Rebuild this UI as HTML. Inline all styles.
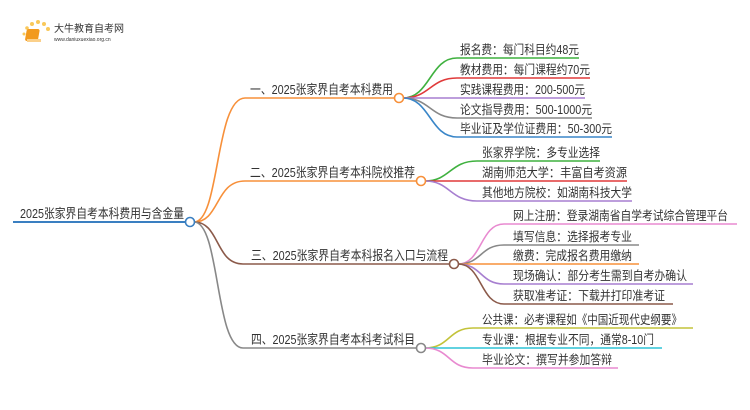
<!DOCTYPE html>
<html><head><meta charset="utf-8"><style>
html,body{margin:0;padding:0;background:#fff;}
svg{display:block;font-family:"Liberation Sans","Noto Sans CJK SC",sans-serif;}
text{fill:#333;}
</style></head><body>
<svg width="750" height="410" viewBox="0 0 750 410" xmlns="http://www.w3.org/2000/svg">
<g>
<circle cx="24" cy="34" r="1.5" fill="#f9c85a"/><circle cx="27" cy="28" r="1.8" fill="#f9c85a"/><circle cx="32" cy="24" r="2" fill="#f9c85a"/><circle cx="38" cy="22" r="2" fill="#f9c85a"/><circle cx="44" cy="24" r="2" fill="#f9c85a"/><circle cx="48" cy="29" r="2" fill="#f9c85a"/>
<rect x="32" y="29" width="13" height="12" rx="2" fill="#f29a1e" transform="skewX(-10)"/>
<rect x="27" y="39" width="14" height="3" fill="#fbd08a"/>
<text x="54" y="32" font-size="10" fill="#333">大牛教育自考网</text>
<text x="54" y="41" font-size="5" fill="#666">www.daniuxuexiao.org.cn</text>
</g>
<g fill="none" stroke-width="1.6">
<path d="M13 222 H186" stroke="#3a7fc1" stroke-width="2"/>
<path d="M194 222 C220 222 215 98 245 98 H395" stroke="#f7903a"/>
<path d="M194 222 C220 222 215 181 245 181 H417" stroke="#f7903a"/>
<path d="M194 222 C220 222 215 264 243 264 H450" stroke="#8b5a4a"/>
<path d="M194 222 C220 222 215 348 243 348 H417" stroke="#888"/>
<path d="M403 98 C430 98 430 58 457 58 H579" stroke="#3fb13f"/>
<path d="M403 98 C430 98 430 78 457 78 H590" stroke="#e03a3a"/>
<path d="M403 98 H585" stroke="#a77fd0"/>
<path d="M403 98 C430 98 430 118 457 118 H592" stroke="#888"/>
<path d="M403 98 C430 98 430 137 457 137 H612" stroke="#3a86c8"/>
<path d="M425 181 C450 181 450 161 477 161 H600" stroke="#3fb13f"/>
<path d="M425 181 H627" stroke="#e03a3a"/>
<path d="M425 181 C450 181 450 201 477 201 H632" stroke="#a77fd0"/>
<path d="M458 264 C482 264 480 224 504 224 H737" stroke="#e88ad0"/>
<path d="M458 264 C482 264 480 245 504 245 H639" stroke="#888"/>
<path d="M458 264 H639" stroke="#f7903a"/>
<path d="M458 264 C482 264 480 284 504 284 H693" stroke="#a77fd0"/>
<path d="M458 264 C482 264 480 304 504 304 H673" stroke="#8b5a4a"/>
<path d="M425 348 C450 348 448 328 473 328 H693" stroke="#c3c33a"/>
<path d="M425 348 H662" stroke="#2ec4d6"/>
<path d="M425 348 C450 348 448 368 473 368 H618" stroke="#e88ad0"/>
</g>
<g fill="#fff" stroke-width="1.6">
<circle cx="190" cy="222" r="4.5" stroke="#3a7fc1"/>
<circle cx="399" cy="98" r="4.5" stroke="#f7903a"/>
<circle cx="421" cy="181" r="4.5" stroke="#f7903a"/>
<circle cx="454" cy="264" r="4.5" stroke="#8b5a4a"/>
<circle cx="421" cy="348" r="4.5" stroke="#888"/>
</g>
<g font-size="13" lengthAdjust="spacingAndGlyphs">
<text x="20" y="218" textLength="164" lengthAdjust="spacingAndGlyphs">2025张家界自考本科费用与含金量</text>
<text x="250" y="94" textLength="143" lengthAdjust="spacingAndGlyphs">一、2025张家界自考本科费用</text>
<text x="250" y="177" textLength="165" lengthAdjust="spacingAndGlyphs">二、2025张家界自考本科院校推荐</text>
<text x="251" y="260" textLength="197" lengthAdjust="spacingAndGlyphs">三、2025张家界自考本科报名入口与流程</text>
<text x="251" y="344" textLength="164" lengthAdjust="spacingAndGlyphs">四、2025张家界自考本科考试科目</text>
</g>
<g font-size="12.5">
<text x="460" y="54" textLength="119" lengthAdjust="spacingAndGlyphs">报名费：每门科目约48元</text>
<text x="460" y="74" textLength="130" lengthAdjust="spacingAndGlyphs">教材费用：每门课程约70元</text>
<text x="460" y="94" textLength="125" lengthAdjust="spacingAndGlyphs">实践课程费用：200-500元</text>
<text x="460" y="114" textLength="132" lengthAdjust="spacingAndGlyphs">论文指导费用：500-1000元</text>
<text x="460" y="133" textLength="152" lengthAdjust="spacingAndGlyphs">毕业证及学位证费用：50-300元</text>
<text x="482" y="157" textLength="118" lengthAdjust="spacingAndGlyphs">张家界学院：多专业选择</text>
<text x="482" y="177" textLength="145" lengthAdjust="spacingAndGlyphs">湖南师范大学：丰富自考资源</text>
<text x="482" y="197" textLength="150" lengthAdjust="spacingAndGlyphs">其他地方院校：如湖南科技大学</text>
<text x="513" y="220" textLength="215" lengthAdjust="spacingAndGlyphs">网上注册：登录湖南省自学考试综合管理平台</text>
<text x="513" y="241" textLength="119" lengthAdjust="spacingAndGlyphs">填写信息：选择报考专业</text>
<text x="513" y="260" textLength="119" lengthAdjust="spacingAndGlyphs">缴费：完成报名费用缴纳</text>
<text x="513" y="280" textLength="174" lengthAdjust="spacingAndGlyphs">现场确认：部分考生需到自考办确认</text>
<text x="513" y="300" textLength="152" lengthAdjust="spacingAndGlyphs">获取准考证：下载并打印准考证</text>
<text x="482" y="324" textLength="200" lengthAdjust="spacingAndGlyphs">公共课：必考课程如《中国近现代史纲要》</text>
<text x="482" y="344" textLength="172" lengthAdjust="spacingAndGlyphs">专业课：根据专业不同，通常8-10门</text>
<text x="482" y="364" textLength="130" lengthAdjust="spacingAndGlyphs">毕业论文：撰写并参加答辩</text>
</g>
</svg>
</body></html>
